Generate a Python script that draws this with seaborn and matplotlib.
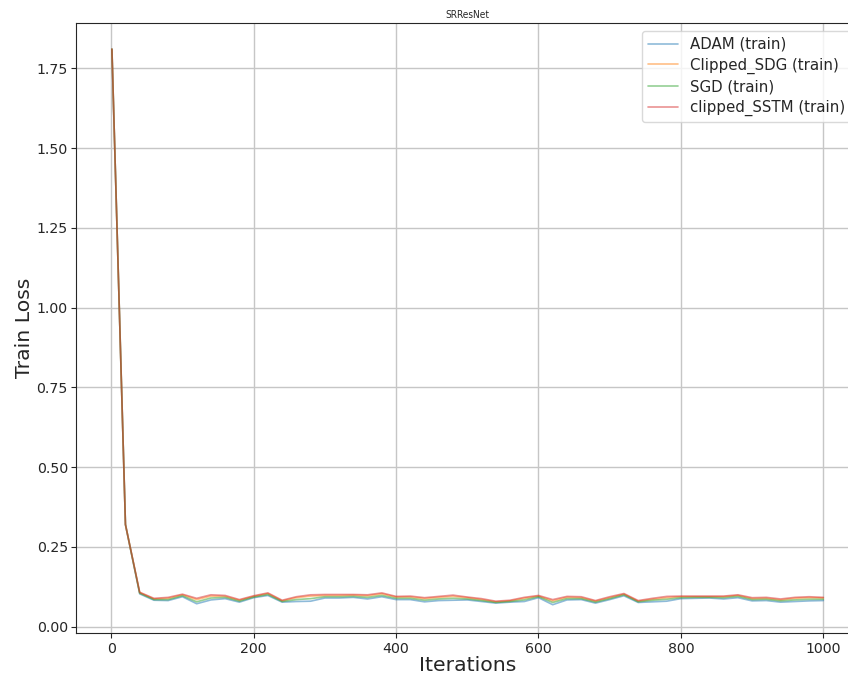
import matplotlib
matplotlib.use("Agg")
import matplotlib.pyplot as plt
import seaborn as sns
import pandas as pd

iterations = [1, 20, 40, 60, 80, 100, 120, 140, 160, 180, 200, 220, 240, 260, 280,
              300, 320, 340, 360, 380, 400, 420, 440, 460, 480, 500, 520, 540, 560,
              580, 600, 620, 640, 660, 680, 700, 720, 740, 760, 780, 800, 820, 840,
              860, 880, 900, 920, 940, 960, 980, 1000]

adam = [1.81, 0.32, 0.103, 0.083, 0.082, 0.094, 0.072, 0.084, 0.088, 0.077, 0.091,
        0.098, 0.077, 0.079, 0.080, 0.090, 0.090, 0.092, 0.087, 0.094, 0.085, 0.085,
        0.078, 0.082, 0.083, 0.084, 0.079, 0.074, 0.077, 0.079, 0.091, 0.069, 0.084,
        0.085, 0.074, 0.085, 0.097, 0.076, 0.078, 0.080, 0.088, 0.089, 0.090, 0.087,
        0.091, 0.081, 0.082, 0.077, 0.079, 0.081, 0.082]

clipped_sdg = [1.81, 0.32, 0.107, 0.087, 0.089, 0.100, 0.085, 0.096, 0.095, 0.083,
               0.095, 0.104, 0.081, 0.091, 0.096, 0.098, 0.098, 0.099, 0.097, 0.103,
               0.093, 0.093, 0.088, 0.092, 0.095, 0.091, 0.085, 0.078, 0.081, 0.089,
               0.096, 0.081, 0.092, 0.091, 0.080, 0.091, 0.102, 0.080, 0.086, 0.091,
               0.094, 0.094, 0.094, 0.094, 0.098, 0.088, 0.089, 0.084, 0.089, 0.091,
               0.090]

sgd = [1.81, 0.32, 0.105, 0.085, 0.085, 0.097, 0.078, 0.090, 0.092, 0.080, 0.093,
       0.101, 0.079, 0.085, 0.088, 0.094, 0.094, 0.095, 0.092, 0.098, 0.089, 0.089,
       0.083, 0.087, 0.089, 0.087, 0.082, 0.076, 0.079, 0.084, 0.094, 0.076, 0.088,
       0.088, 0.077, 0.088, 0.100, 0.078, 0.083, 0.086, 0.091, 0.092, 0.092, 0.091,
       0.095, 0.085, 0.086, 0.081, 0.084, 0.086, 0.086]

clipped_sstm = [1.81, 0.32, 0.108, 0.089, 0.092, 0.102, 0.089, 0.100, 0.098, 0.085,
                0.097, 0.106, 0.083, 0.094, 0.100, 0.101, 0.101, 0.101, 0.100, 0.106,
                0.095, 0.096, 0.091, 0.095, 0.099, 0.093, 0.088, 0.080, 0.083, 0.092,
                0.098, 0.085, 0.095, 0.094, 0.082, 0.094, 0.104, 0.082, 0.089, 0.095,
                0.096, 0.096, 0.096, 0.096, 0.100, 0.091, 0.092, 0.087, 0.092, 0.094,
                0.092]

series_names = ["ADAM (train)", "Clipped_SDG (train)", "SGD (train)", "clipped_SSTM (train)"]
series_values = [adam, clipped_sdg, sgd, clipped_sstm]

frames = []
for name, vals in zip(series_names, series_values):
    frames.append(pd.DataFrame({"Iterations": iterations, "Train Loss": vals, "run": name}))
df = pd.concat(frames, ignore_index=True)

sns.set_style("ticks", {"axes.grid": True, "grid.color": "#c6c6c6",
                        "axes.edgecolor": "#262626"})
plt.rcParams["font.family"] = ["DejaVu Sans"]

fig = plt.figure(figsize=(8.48, 6.77), dpi=100)
ax = fig.add_axes([0.0900, 0.0645, 0.9229, 0.9011])

sns.lineplot(data=df, x="Iterations", y="Train Loss", hue="run",
             hue_order=series_names, palette="tab10", alpha=0.5,
             linewidth=1.2, ax=ax)

ax.set_xlim(-49, 1050)
ax.set_ylim(-0.0207, 1.891)
ax.set_xticks([0, 200, 400, 600, 800, 1000])
ax.set_yticks([0.0, 0.25, 0.5, 0.75, 1.0, 1.25, 1.5, 1.75])
ax.set_yticklabels(["0.00", "0.25", "0.50", "0.75", "1.00", "1.25", "1.50", "1.75"])
ax.tick_params(axis="both", labelsize=10.2, colors="#262626", length=3.5, pad=2.5)
ax.set_xlabel("Iterations", fontsize=14.7, color="#262626", labelpad=0)
ax.set_ylabel("Train Loss", fontsize=14.7, color="#262626", labelpad=2)
ax.set_title("SRResNet", fontsize=7.2, fontstretch="condensed", pad=4)
ax.grid(True, color="#c6c6c6", linewidth=1.0)

leg = ax.legend(loc="upper right", fontsize=10.8, frameon=True,
                borderaxespad=0.5, handlelength=2.0, labelspacing=0.38)
leg.get_frame().set_edgecolor("#d0d0d0")

fig.savefig("out.png", dpi=100)
